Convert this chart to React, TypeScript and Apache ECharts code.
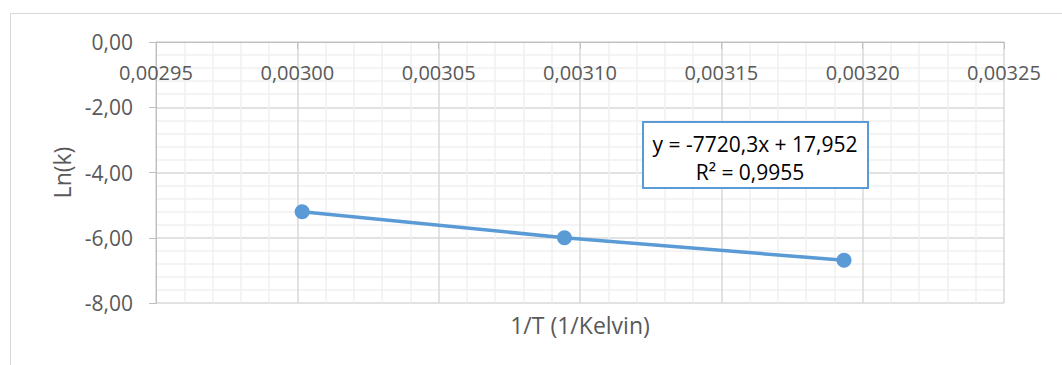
import React, { useEffect, useRef } from "react";
import * as echarts from "echarts";

// Reciprocal temperature (1/K) and natural log of the rate constant
const invTemperature = [0.0030017, 0.0030945, 0.0031934];
const lnK = [-5.2, -6.0, -6.69];

const equationText = "y = -7720,3x + 17,952";
const rSquaredText = "R² = 0,9955";
const xAxisTitle = "1/T (1/Kelvin)";
const yAxisTitle = "Ln(k)";

const FONT = "'Open Sans', 'Liberation Sans', sans-serif";
const TEXT_COLOR = "#595959";
const BLUE = "#5B9BD5";

const commaNum = (v: number, digits: number) => v.toFixed(digits).replace(".", ",");

export default function App() {
  const ref = useRef<HTMLDivElement>(null);

  useEffect(() => {
    if (!ref.current) return;
    const chart = echarts.init(ref.current, undefined, { renderer: "svg" });
    const points = invTemperature.map((x, i) => [x, lnK[i]]);

    chart.setOption({
      animation: false,
      backgroundColor: "#ffffff",
      textStyle: { fontFamily: FONT },
      grid: { left: 156, top: 42, right: 58, bottom: 62, containLabel: false },
      xAxis: {
        type: "value",
        position: "top",
        min: 0.00295,
        max: 0.00325,
        interval: 0.00005,
        axisLine: { show: true, onZero: false, lineStyle: { color: "#bfbfbf", width: 1 } },
        axisTick: { show: true, inside: true, length: 7, lineStyle: { color: "#bfbfbf" } },
        axisLabel: {
          inside: true,
          margin: 20,
          color: TEXT_COLOR,
          fontSize: 20,
          fontFamily: FONT,
          formatter: (v: number) => commaNum(v, 5),
        },
        splitLine: { show: true, lineStyle: { color: "#d9d9d9", width: 1.5 } },
        minorTick: { show: false, splitNumber: 5 },
        minorSplitLine: { show: true, lineStyle: { color: "#f0f0f0", width: 1.5 } },
      },
      yAxis: {
        type: "value",
        min: -8,
        max: 0,
        interval: 2,
        name: yAxisTitle,
        nameLocation: "middle",
        nameGap: 82,
        nameRotate: 90,
        nameTextStyle: { color: TEXT_COLOR, fontSize: 23, fontFamily: FONT },
        axisLine: { show: true, onZero: false, lineStyle: { color: "#bfbfbf", width: 1 } },
        axisTick: { show: true, length: 7, lineStyle: { color: "#bfbfbf" } },
        axisLabel: {
          margin: 23,
          color: TEXT_COLOR,
          fontSize: 21,
          fontFamily: FONT,
          formatter: (v: number) => commaNum(v, 2),
        },
        splitLine: { show: true, lineStyle: { color: "#d9d9d9", width: 1.5 } },
        minorTick: { show: false, splitNumber: 5 },
        minorSplitLine: { show: true, lineStyle: { color: "#f0f0f0", width: 1.5 } },
      },
      series: [
        {
          type: "line",
          data: points,
          symbol: "circle",
          symbolSize: 15,
          itemStyle: { color: BLUE },
          lineStyle: { color: BLUE, width: 3.5 },
          z: 5,
        },
      ],
      graphic: [
        // chart frame (top and left edges)
        {
          type: "line",
          shape: { x1: 10, y1: 13.5, x2: 1062, y2: 13.5 },
          style: { stroke: "#d9d9d9", lineWidth: 1 },
          silent: true,
        },
        {
          type: "line",
          shape: { x1: 10.5, y1: 13, x2: 10.5, y2: 365 },
          style: { stroke: "#d9d9d9", lineWidth: 1 },
          silent: true,
        },
        // x-axis title below the plot
        {
          type: "text",
          x: 580,
          y: 325,
          style: {
            text: xAxisTitle,
            fill: TEXT_COLOR,
            fontSize: 23,
            fontFamily: FONT,
            align: "center",
            verticalAlign: "middle",
          },
          silent: true,
        },
        // trendline equation box
        {
          type: "rect",
          z: 100,
          shape: { x: 643, y: 122, width: 225, height: 66 },
          style: { fill: "#ffffff", stroke: BLUE, lineWidth: 2 },
          silent: true,
        },
        {
          type: "text",
          z: 101,
          x: 755,
          y: 144,
          style: {
            text: equationText,
            fill: "#000000",
            fontSize: 21,
            fontFamily: FONT,
            align: "center",
            verticalAlign: "middle",
          },
          silent: true,
        },
        {
          type: "text",
          z: 101,
          x: 750,
          y: 172,
          style: {
            text: rSquaredText,
            fill: "#000000",
            fontSize: 21,
            fontFamily: FONT,
            align: "center",
            verticalAlign: "middle",
          },
          silent: true,
        },
      ],
    });

    return () => chart.dispose();
  }, []);

  return (
    <div
      ref={ref}
      style={{ position: "fixed", left: 0, top: 0, width: 1062, height: 365 }}
    />
  );
}
